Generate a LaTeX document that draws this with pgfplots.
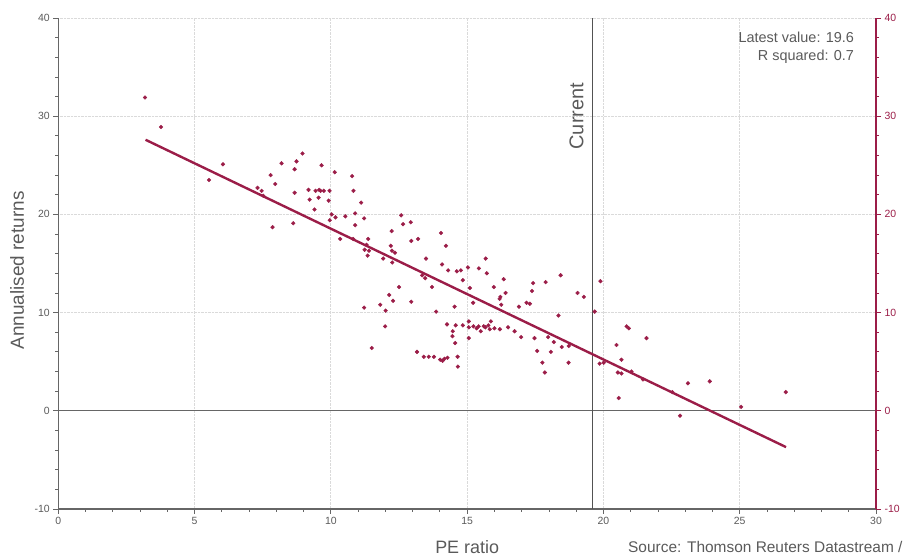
\documentclass[border=0pt]{standalone}
\usepackage{fontspec}
\setmainfont{Liberation Sans}
\usepackage{pgfplots}
\pgfplotsset{compat=1.18}
\definecolor{wine}{HTML}{9B1D48}
\definecolor{txtgrey}{HTML}{5A5A5A}
\definecolor{axgrey}{HTML}{666666}
\definecolor{gridgrey}{HTML}{DADADA}

\pgfplotstableread{
x y
3.18 31.9
3.77 28.9
5.53 23.5
6.04 25.1
7.31 22.7
7.46 22.4
7.52 21.9
7.79 24.0
7.96 23.1
8.19 25.2
7.86 18.7
8.67 24.6
8.74 25.4
8.67 22.2
8.62 19.1
8.96 26.2
9.18 22.5
9.22 21.5
9.40 20.5
9.44 22.4
9.57 22.5
9.62 22.4
9.55 21.7
9.66 25.0
9.74 22.4
9.95 22.4
9.92 21.4
10.14 24.3
10.03 20.0
9.96 19.4
10.17 19.7
10.53 19.8
10.78 23.9
10.83 22.4
11.11 21.2
10.89 20.1
11.22 19.6
10.89 18.9
10.34 17.5
10.82 17.5
11.37 17.5
11.31 16.9
11.24 16.4
11.40 16.3
11.35 15.8
12.58 19.9
12.65 19.0
12.93 19.2
12.23 18.3
12.95 17.3
13.20 17.5
12.20 16.8
12.24 16.3
12.35 16.1
11.92 15.5
12.25 15.1
13.49 15.5
14.04 18.1
14.22 16.8
14.08 14.9
14.30 14.3
14.62 14.2
14.77 14.3
15.03 14.6
15.43 14.5
13.35 13.8
13.46 13.5
13.71 12.6
12.50 12.6
12.14 11.8
12.28 11.2
12.95 11.1
11.81 10.8
11.22 10.5
14.84 13.3
15.10 12.5
14.54 10.6
15.22 11.0
15.68 15.5
15.72 14.0
15.98 12.6
16.34 13.4
16.41 12.0
16.19 11.4
16.22 11.6
16.25 10.8
12.01 10.2
13.86 10.1
11.99 8.6
14.26 8.8
14.58 8.7
14.84 8.7
15.06 9.1
15.06 8.5
15.23 8.6
15.35 8.4
15.42 8.6
15.50 8.1
15.61 8.6
15.67 8.5
15.78 8.7
15.87 9.1
15.83 8.3
16.00 8.4
16.20 8.3
16.50 8.5
16.74 8.1
16.98 7.5
14.47 8.1
14.46 7.6
14.56 6.9
15.06 7.4
11.50 6.4
13.16 6.0
13.41 5.5
13.59 5.5
13.78 5.5
14.01 5.2
14.10 5.1
14.17 5.3
14.28 5.4
14.65 5.5
14.66 4.5
16.90 10.6
17.18 11.0
17.30 10.9
17.38 12.2
17.42 13.0
17.88 13.1
18.43 13.8
19.05 12.0
19.28 11.6
18.35 9.7
19.68 10.1
19.89 13.2
17.47 7.4
17.57 6.1
17.76 4.9
17.85 3.9
17.97 7.5
18.18 7.0
18.07 6.0
18.47 6.5
18.73 6.6
18.72 4.9
19.86 4.8
20.01 4.9
20.48 6.7
20.66 5.2
20.53 3.9
20.66 3.8
20.85 8.6
20.93 8.4
21.58 7.4
21.03 4.0
21.45 3.2
20.56 1.3
23.10 2.8
23.90 3.0
22.53 1.9
22.81 -0.5
25.05 0.4
26.69 1.9
}\pedata

\begin{document}
\begin{tikzpicture}
\pgfplotsset{
  base/.style={
    scale only axis, width=817.7bp, height=491bp,
    xmin=0, xmax=30, ymin=-10, ymax=40,
    ytick={-10,0,...,40}, minor y tick num=4,
    tick align=outside,
    major tick length=5bp, minor tick length=3bp,
    tick label style={font=\fontsize{10.5}{12}\selectfont},
    /pgf/number format/assume math mode=true,
    clip=false,
  },
}
\begin{axis}[base,
    axis x line*=bottom, axis y line*=left,
    xtick={0,5,...,30}, minor x tick num=4,
    grid=major,
    major grid style={gridgrey, densely dotted, line width=0.9bp},
    axis line style={axgrey, line width=1.2bp},
    tick style={axgrey, line width=0.8bp},
    ticklabel style={txtgrey},
]
\coordinate (bl) at (rel axis cs:0,0);
\coordinate (tr) at (rel axis cs:1,1);
% zero line and current value
\addplot[axgrey, line width=1.3bp] coordinates {(0,0) (30,0)};
\addplot[axgrey!80!black, line width=1bp] coordinates {(19.6,-10) (19.6,40)};
\addplot[only marks, mark=*, mark size=1.9bp, wine] table {\pedata};
% fitted line
\addplot[wine, line width=2.4bp] coordinates {(3.2,27.6) (26.7,-3.7)};
\node[rotate=90, anchor=south, inner sep=0pt, text=txtgrey, font=\fontsize{20}{24}\selectfont]
  at (axis cs:19.28,30) {Current};
\node[anchor=east, inner sep=0pt, text=txtgrey, font=\fontsize{14.5}{17}\selectfont]
  at (axis cs:29.2,38.0) {Latest value: 19.6};
\node[anchor=east, inner sep=0pt, text=txtgrey, font=\fontsize{14.5}{17}\selectfont]
  at (axis cs:29.2,36.05) {R squared: 0.7};
\node[rotate=90, text=txtgrey, font=\fontsize{19}{22}\selectfont]
  at (axis cs:-1.515,14.3) {Annualised returns};
\node[text=txtgrey, font=\fontsize{18}{22}\selectfont]
  at (axis cs:15,-13.87) {PE ratio};
\node[anchor=east, inner sep=0pt, text=txtgrey, font=\fontsize{15.5}{19}\selectfont]
  at (axis cs:30.98,-13.87) {Source: Thomson Reuters Datastream /};
\end{axis}
\begin{axis}[base,
    axis x line=none, axis y line*=right,
    y axis line style={wine, line width=1.2bp},
    ytick style={wine, line width=0.8bp},
    yticklabel style={wine},
]
\addplot[draw=none] coordinates {(0,0)};
\end{axis}
\pgfresetboundingbox
\path ([shift={(-58.3bp,-49bp)}]bl) rectangle ([shift={(28bp,18bp)}]tr);
\end{tikzpicture}
\end{document}
